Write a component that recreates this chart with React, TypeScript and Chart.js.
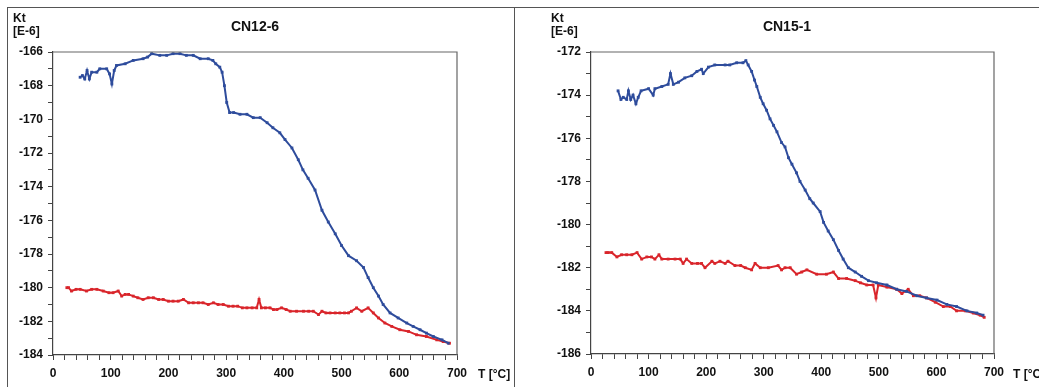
import React, { useEffect, useRef } from "react";
import { Chart, registerables } from "chart.js";

Chart.register(...registerables);

// ---------- Data ----------
const titles = ["CN12-6", "CN15-1"];

// Left panel (CN12-6)
const leftBlueT = [47, 51, 55, 59, 63, 67, 76, 81, 93, 98, 102, 106, 110, 125, 139, 156, 164, 171, 185, 197, 208, 220, 231, 243, 255, 269, 277, 282, 289, 293, 297, 301, 306, 313, 324, 336, 347, 359, 371, 381, 393, 402, 414, 425, 433, 442, 454, 466, 477, 489, 500, 512, 526, 538, 546, 555, 564, 572, 584, 598, 613, 624, 636, 647, 659, 674, 685];
const leftBlueK = [-167.5, -167.4, -167.6, -167.1, -167.6, -167.2, -167.2, -167.0, -167.0, -167.3, -167.9, -167.1, -166.8, -166.7, -166.5, -166.4, -166.3, -166.1, -166.2, -166.2, -166.1, -166.1, -166.2, -166.2, -166.4, -166.4, -166.5, -166.7, -166.9, -167.2, -168.0, -169.0, -169.6, -169.6, -169.7, -169.7, -169.9, -169.9, -170.2, -170.5, -170.8, -171.2, -171.7, -172.4, -173.0, -173.5, -174.2, -175.4, -176.1, -176.8, -177.5, -178.1, -178.4, -178.8, -179.4, -180.0, -180.5, -181.0, -181.5, -181.8, -182.1, -182.3, -182.5, -182.7, -182.9, -183.1, -183.3];

const leftRedT = [24, 27, 32, 40, 47, 58, 67, 76, 87, 97, 104, 113, 119, 125, 131, 139, 147, 156, 165, 174, 183, 191, 200, 208, 217, 226, 235, 243, 252, 260, 269, 278, 286, 295, 304, 312, 320, 328, 336, 345, 353, 357, 361, 368, 376, 382, 388, 396, 404, 411, 422, 434, 443, 451, 460, 466, 473, 480, 489, 497, 505, 512, 517, 526, 535, 546, 555, 564, 575, 587, 601, 616, 630, 647, 665, 676, 687];
const leftRedK = [-180.0, -180.0, -180.2, -180.1, -180.1, -180.2, -180.1, -180.1, -180.2, -180.3, -180.3, -180.2, -180.5, -180.4, -180.4, -180.5, -180.6, -180.7, -180.6, -180.6, -180.7, -180.7, -180.8, -180.8, -180.8, -180.7, -180.9, -180.9, -180.9, -180.9, -181.0, -180.9, -181.0, -181.0, -181.1, -181.1, -181.1, -181.2, -181.2, -181.2, -181.2, -180.7, -181.2, -181.2, -181.2, -181.3, -181.3, -181.2, -181.3, -181.4, -181.4, -181.4, -181.4, -181.4, -181.6, -181.4, -181.5, -181.5, -181.5, -181.5, -181.5, -181.5, -181.4, -181.2, -181.4, -181.2, -181.5, -181.8, -182.1, -182.3, -182.5, -182.6, -182.8, -182.9, -183.1, -183.2, -183.3];

// Right panel (CN15-1)
const rightBlueT = [47, 52, 56, 62, 65, 69, 73, 78, 82, 87, 100, 108, 111, 123, 134, 138, 143, 152, 163, 175, 184, 192, 195, 204, 215, 233, 241, 253, 264, 269, 273, 279, 284, 288, 294, 299, 305, 311, 317, 323, 331, 337, 343, 349, 357, 363, 372, 380, 386, 398, 404, 412, 421, 430, 438, 447, 459, 470, 482, 496, 514, 531, 548, 566, 583, 601, 618, 635, 653, 670, 681];
const rightBlueK = [-173.8, -174.2, -174.1, -174.2, -173.8, -174.2, -174.0, -174.4, -174.1, -173.8, -173.7, -174.0, -173.7, -173.6, -173.5, -173.0, -173.5, -173.4, -173.2, -173.1, -172.9, -172.8, -173.0, -172.7, -172.6, -172.6, -172.6, -172.5, -172.5, -172.4, -172.6, -172.9, -173.3, -173.6, -174.1, -174.4, -174.7, -175.1, -175.4, -175.7, -176.2, -176.4, -176.9, -177.2, -177.6, -178.0, -178.4, -178.8, -179.0, -179.4, -179.9, -180.3, -180.7, -181.2, -181.6, -182.0, -182.2, -182.4, -182.6, -182.7, -182.8, -183.0, -183.1, -183.3, -183.4, -183.5, -183.7, -183.8, -184.0, -184.1, -184.2];

const rightRedT = [26, 30, 36, 45, 53, 62, 71, 80, 88, 97, 105, 111, 118, 123, 134, 146, 155, 160, 166, 175, 185, 192, 198, 210, 215, 224, 233, 238, 250, 260, 268, 279, 285, 294, 308, 325, 331, 337, 346, 357, 366, 375, 392, 409, 421, 430, 444, 459, 468, 479, 490, 495, 499, 514, 531, 540, 551, 560, 571, 583, 598, 612, 624, 635, 650, 664, 676, 683];
const rightRedK = [-181.3, -181.3, -181.3, -181.5, -181.4, -181.4, -181.4, -181.3, -181.6, -181.5, -181.5, -181.6, -181.4, -181.6, -181.6, -181.6, -181.6, -181.8, -181.6, -181.8, -181.8, -181.8, -182.0, -181.7, -181.8, -181.7, -181.8, -181.7, -181.9, -181.9, -182.0, -182.1, -181.8, -182.0, -182.0, -181.9, -182.1, -182.0, -182.0, -182.3, -182.2, -182.1, -182.3, -182.3, -182.2, -182.5, -182.5, -182.6, -182.7, -182.8, -182.8, -183.4, -182.8, -182.9, -183.0, -183.2, -183.0, -183.3, -183.3, -183.4, -183.6, -183.8, -183.8, -184.0, -184.0, -184.1, -184.2, -184.3];

const leftYRange = [-184, -166];
const rightYRange = [-186, -172];
const xRange = [0, 700];

const BLUE = "#2e4c9c";
const RED = "#d9252b";
const FONT = "'Liberation Sans', Arial, sans-serif";

function pts(t: number[], k: number[]) {
  return t.map((x, i) => ({ x, y: k[i] }));
}

type PanelCfg = {
  title: string;
  blue: { x: number; y: number }[];
  red: { x: number; y: number }[];
  yRange: number[];
  yAxisWidth: number;
  padRight: number;
  padBottom: number;
  xAxisHeight: number;
  ktX: number;
  titleX: number;
  tX: number;
};

function PanelChart({ cfg, style }: { cfg: PanelCfg; style: React.CSSProperties }) {
  const ref = useRef<HTMLCanvasElement | null>(null);
  useEffect(() => {
    if (!ref.current) return;
    const overlay = {
      id: "overlay",
      afterDraw(chart: any) {
        const { ctx, chartArea } = chart;
        ctx.save();
        ctx.strokeStyle = "#666";
        ctx.lineWidth = 1.2;
        ctx.beginPath();
        ctx.moveTo(chartArea.left, chartArea.top);
        ctx.lineTo(chartArea.right, chartArea.top);
        ctx.lineTo(chartArea.right, chartArea.bottom);
        ctx.stroke();
        ctx.fillStyle = "#111";
        ctx.textBaseline = "middle";
        ctx.textAlign = "left";
        ctx.font = `bold 12px ${FONT}`;
        ctx.fillText("Kt", cfg.ktX, 11);
        ctx.fillText("[E-6]", cfg.ktX, 24);
        ctx.fillText("T [°C]", cfg.tX, 367);
        ctx.textAlign = "center";
        ctx.font = `bold 14px ${FONT}`;
        ctx.fillText(cfg.title, cfg.titleX, 19);
        ctx.restore();
      },
    };
    const ds = (label: string, data: any, color: string) => ({
      label,
      data,
      borderColor: color,
      backgroundColor: color,
      borderWidth: 2,
      pointStyle: "rect",
      pointRadius: 2,
      pointBorderWidth: 0,
      tension: 0,
    });
    const chart = new Chart(ref.current, {
      type: "line",
      data: {
        datasets: [ds("blue", cfg.blue, BLUE), ds("red", cfg.red, RED)],
      },
      options: {
        animation: false,
        responsive: false,
        maintainAspectRatio: false,
        layout: { padding: { left: 0, top: 44, right: cfg.padRight, bottom: cfg.padBottom } },
        plugins: { legend: { display: false }, title: { display: false }, tooltip: { enabled: false } },
        scales: {
          x: {
            type: "linear",
            min: xRange[0],
            max: xRange[1],
            border: { display: true, color: "#444", width: 1.2 },
            grid: { drawOnChartArea: false, drawTicks: true, tickLength: 5, color: "#444" },
            ticks: {
              stepSize: 20,
              autoSkip: false,
              maxRotation: 0,
              padding: 6,
              color: "#111",
              font: { family: FONT, size: 12, weight: "bold" },
              callback: (v: any) => (Number(v) % 100 === 0 ? String(v) : ""),
            },
            afterFit: (s: any) => {
              s.height = cfg.xAxisHeight;
            },
          },
          y: {
            type: "linear",
            min: cfg.yRange[0],
            max: cfg.yRange[1],
            border: { display: true, color: "#444", width: 1.2 },
            grid: { drawOnChartArea: false, drawTicks: true, tickLength: 5, color: "#444" },
            ticks: {
              stepSize: 1,
              autoSkip: false,
              padding: 5,
              color: "#111",
              font: { family: FONT, size: 12, weight: "bold" },
              callback: (v: any) => (Math.round(Number(v)) % 2 === 0 ? String(v) : ""),
            },
            afterFit: (s: any) => {
              s.width = cfg.yAxisWidth;
            },
          },
        },
      } as any,
      plugins: [overlay],
    });
    return () => chart.destroy();
  }, []);
  return <canvas ref={ref} width={style.width as number} height={style.height as number} style={style} />;
}

const leftCfg: PanelCfg = {
  title: titles[0],
  blue: pts(leftBlueT, leftBlueK),
  red: pts(leftRedT, leftRedK),
  yRange: leftYRange,
  yAxisWidth: 45,
  padRight: 57,
  padBottom: 1,
  xAxisHeight: 30,
  ktX: 5,
  titleX: 247,
  tX: 470,
};

const rightCfg: PanelCfg = {
  title: titles[1],
  blue: pts(rightBlueT, rightBlueK),
  red: pts(rightRedT, rightRedK),
  yRange: rightYRange,
  yAxisWidth: 76,
  padRight: 45,
  padBottom: 2,
  xAxisHeight: 30,
  ktX: 36,
  titleX: 272,
  tX: 498,
};

export default function App() {
  return (
    <div
      style={{
        position: "fixed",
        left: 0,
        top: 0,
        width: 1039,
        height: 387,
        background: "#fff",
        overflow: "hidden",
      }}
    >
      <div
        style={{
          position: "absolute",
          left: 7,
          top: 7,
          width: 1100,
          height: 400,
          borderTop: "1px solid #555",
          borderLeft: "1px solid #555",
        }}
      />
      <div
        style={{
          position: "absolute",
          left: 514,
          top: 7,
          width: 0,
          height: 400,
          borderLeft: "1px solid #555",
        }}
      />
      <PanelChart cfg={leftCfg} style={{ position: "absolute", left: 8, top: 8, width: 506, height: 378 }} />
      <PanelChart cfg={rightCfg} style={{ position: "absolute", left: 515, top: 8, width: 524, height: 378 }} />
    </div>
  );
}
